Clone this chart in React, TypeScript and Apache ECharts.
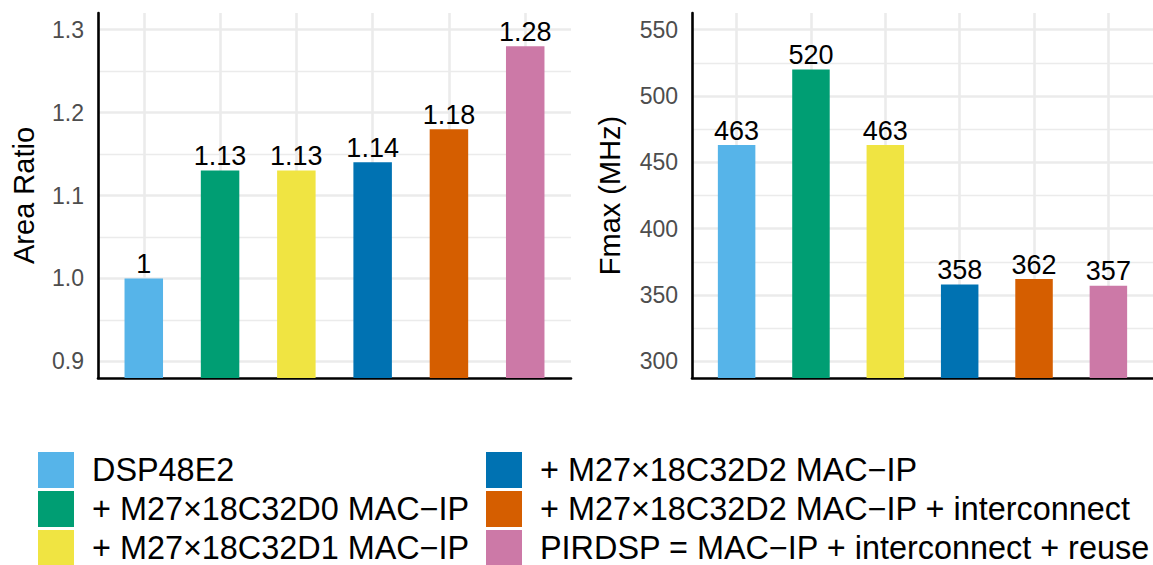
import React, { useEffect, useRef } from "react";
import * as echarts from "echarts";

const categories = [
  "DSP48E2",
  "+ M27×18C32D0 MAC−IP",
  "+ M27×18C32D1 MAC−IP",
  "+ M27×18C32D2 MAC−IP",
  "+ M27×18C32D2 MAC−IP + interconnect",
  "PIRDSP = MAC−IP + interconnect + reuse",
];
const areaRatio = [1, 1.13, 1.13, 1.14, 1.18, 1.28];
const fmax = [463, 520, 463, 358, 362, 357];
const colors = ["#56B4E9", "#009E73", "#F0E442", "#0072B2", "#D55E00", "#CC79A7"];

const FONT = "'Liberation Sans', Arial, Helvetica, sans-serif";
const GRID = "#ebebeb";
const T = "rgba(0,0,0,0)";

function cycle(len: number, idx: number, color: string) {
  const arr: string[] = [];
  for (let i = 0; i < len; i++) arr.push(i === idx ? color : T);
  return arr;
}

export default function App() {
  const ref = useRef<HTMLDivElement>(null);
  useEffect(() => {
    if (!ref.current) return;
    const chart = echarts.init(ref.current, undefined, { renderer: "svg" });

    const xAxisBase = (gridIndex: number) => ({
      type: "value",
      gridIndex,
      min: 0.4,
      max: 6.6,
      interval: 0.2,
      axisLine: { show: true, onZero: false, lineStyle: { color: "#000", width: 2.6 } },
      axisTick: { show: false },
      axisLabel: { show: false },
      splitLine: { show: true, lineStyle: { color: cycle(5, 3, GRID), width: 2.6 } },
    });

    const leftFmt = (v: number) => {
      const r = Math.round(v * 10) / 10;
      return Math.abs(v - r) < 1e-6 ? r.toFixed(1) : "";
    };
    const rightFmt = (v: number) => (Math.abs(v % 50) < 1e-6 ? String(v) : "");

    const axisLabel = (fmt: (v: number) => string) => ({
      show: true,
      formatter: fmt,
      color: "#4d4d4d",
      fontSize: 23,
      fontFamily: FONT,
      margin: 14,
    });

    const nameStyle = { color: "#000", fontSize: 29, fontFamily: FONT };

    const barLabel = {
      show: true,
      position: "top",
      distance: 1,
      color: "#000",
      fontSize: 27,
      fontFamily: FONT,
      formatter: (p: any) => String(p.value[1]),
    };

    const series: any[] = [];
    categories.forEach((name, i) => {
      series.push({
        type: "bar",
        name,
        xAxisIndex: 0,
        yAxisIndex: 0,
        data: [[i + 1, areaRatio[i]]],
        barWidth: 38.5,
        barGap: "-100%",
        clip: true,
        itemStyle: { color: colors[i] },
        label: barLabel,
      });
      series.push({
        type: "bar",
        name,
        xAxisIndex: 1,
        yAxisIndex: 2,
        data: [[i + 1, fmax[i]]],
        barWidth: 37.5,
        barGap: "-100%",
        clip: true,
        itemStyle: { color: colors[i] },
        label: barLabel,
      });
    });

    const legendBase = {
      orient: "vertical",
      top: 452,
      height: 130,
      padding: 0,
      itemWidth: 36,
      itemHeight: 36,
      itemGap: 3,
      icon: "rect",
      selectedMode: false,
      textStyle: {
        color: "#000",
        fontSize: 32.4,
        lineHeight: 30,
        fontFamily: FONT,
        padding: [0, 0, 0, 13],
      },
    };

    chart.setOption({
      animation: false,
      backgroundColor: "#fff",
      textStyle: { fontFamily: FONT },
      grid: [
        { left: 98, top: 13, width: 473, height: 365, containLabel: false, outerBoundsMode: "none" },
        { left: 692, top: 13, width: 461, height: 365, containLabel: false, outerBoundsMode: "none" },
      ],
      xAxis: [xAxisBase(0), xAxisBase(1)],
      yAxis: [
        {
          type: "value",
          gridIndex: 0,
          position: "left",
          min: 0.88,
          max: 1.32,
          interval: 0.01,
          startValue: 0.88,
          name: "Area Ratio",
          nameLocation: "middle",
          nameRotate: 90,
          nameGap: 60,
          nameTextStyle: nameStyle,
          axisLine: { show: true, onZero: false, lineStyle: { color: "#000", width: 2.6 } },
          axisTick: { show: false },
          axisLabel: axisLabel(leftFmt),
          splitLine: { show: true, lineStyle: { color: cycle(10, 2, GRID), width: 2.6 } },
        },
        {
          type: "value",
          gridIndex: 0,
          position: "right",
          min: 0.88,
          max: 1.32,
          interval: 0.01,
          axisLine: { show: false },
          axisTick: { show: false },
          axisLabel: { show: false },
          splitLine: { show: true, lineStyle: { color: cycle(10, 7, GRID), width: 1.3 } },
        },
        {
          type: "value",
          gridIndex: 1,
          position: "left",
          min: 287.5,
          max: 562.5,
          interval: 12.5,
          startValue: 287.5,
          name: "Fmax (MHz)",
          nameLocation: "middle",
          nameRotate: 90,
          nameGap: 68,
          nameTextStyle: nameStyle,
          axisLine: { show: true, onZero: false, lineStyle: { color: "#000", width: 2.6 } },
          axisTick: { show: false },
          axisLabel: axisLabel(rightFmt),
          splitLine: { show: true, lineStyle: { color: cycle(4, 1, GRID), width: 2.6 } },
        },
        {
          type: "value",
          gridIndex: 1,
          position: "right",
          min: 287.5,
          max: 562.5,
          interval: 12.5,
          axisLine: { show: false },
          axisTick: { show: false },
          axisLabel: { show: false },
          splitLine: { show: true, lineStyle: { color: cycle(4, 3, GRID), width: 1.3 } },
        },
      ],
      legend: [
        { ...legendBase, left: 38, data: categories.slice(0, 3) },
        { ...legendBase, left: 486, data: categories.slice(3, 6) },
      ],
      series,
    });
    return () => chart.dispose();
  }, []);
  return (
    <div
      ref={ref}
      style={{ position: "absolute", left: 0, top: 0, width: 1153, height: 565, background: "#fff" }}
    />
  );
}
